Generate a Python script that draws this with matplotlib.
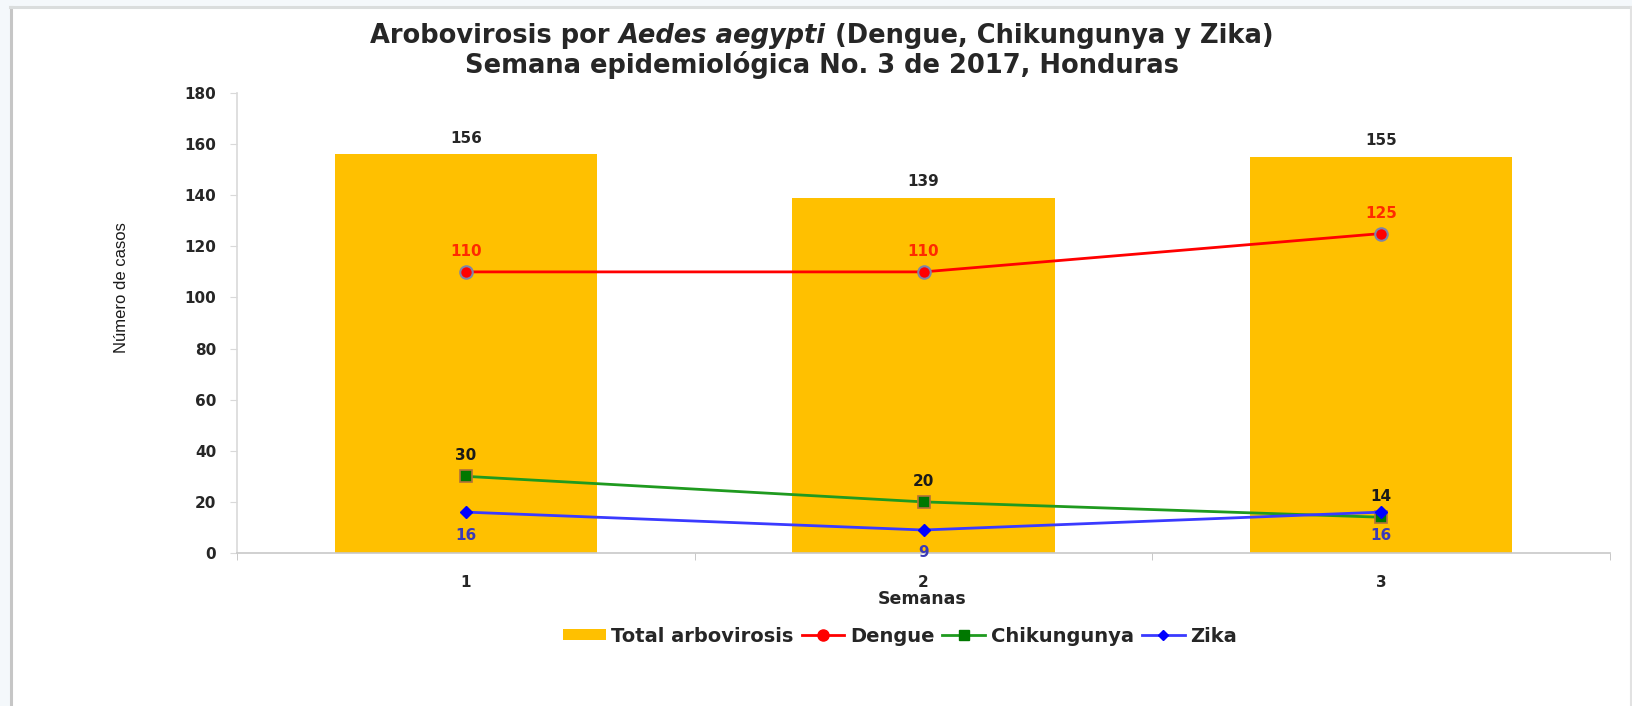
import matplotlib
matplotlib.use("Agg")
import matplotlib.pyplot as plt
from matplotlib.patches import Rectangle, Patch
from matplotlib.lines import Line2D
import numpy as np

# ---- data ----
semanas = [1, 2, 3]
semana_labels = ["1", "2", "3"]
total = [156, 139, 155]
dengue = [110, 110, 125]
chikungunya = [30, 20, 14]
zika = [16, 9, 16]

W, H = 1632, 706
fig = plt.figure(figsize=(W / 100, H / 100), dpi=100, facecolor="#f4f8fb")

# white chart panel with borders
fig.patches.append(Rectangle((10 / W, 0), (1630 - 10) / W, 1 - 7 / H,
                             transform=fig.transFigure, facecolor="white",
                             edgecolor="none", zorder=-5))
fig.lines.append(Line2D([10.5 / W, 10.5 / W], [0, 1 - 7 / H], transform=fig.transFigure,
                        color="#c6c6c6", lw=2.2, zorder=-4))
fig.lines.append(Line2D([10 / W, 1630 / W], [1 - 7 / H, 1 - 7 / H], transform=fig.transFigure,
                        color="#dadddd", lw=2.2, zorder=-4))
fig.lines.append(Line2D([1630.5 / W, 1630.5 / W], [0, 1 - 7 / H], transform=fig.transFigure,
                        color="#e2e2e2", lw=1.5, zorder=-4))

ax = fig.add_axes([237 / W, 1 - 553 / H, (1610 - 237) / W, (553 - 93) / H])
ax.set_facecolor("none")
ax.set_zorder(1)

bar_color = "#FFC000"
ax.bar(semanas, total, width=0.573, color=bar_color, zorder=1)

ax.plot(semanas, dengue, color="#ff0000", lw=2, marker="o", markersize=9,
        markerfacecolor="#ff0000", markeredgecolor="#7f84a8", markeredgewidth=1.5, zorder=3)
ax.plot(semanas, chikungunya, color="#1f9a1f", lw=2, marker="s", markersize=8.5,
        markerfacecolor="#007800", markeredgecolor="#b0703a", markeredgewidth=1.2, zorder=3)
ax.plot(semanas, zika, color="#3a3aff", lw=2, marker="D", markersize=6,
        markerfacecolor="#0000ff", markeredgecolor="#0000ff", zorder=4)

lab_font = dict(fontsize=11, fontweight="bold", family="DejaVu Sans")
for x, v in zip(semanas, total):
    ax.annotate(str(v), (x, v), xytext=(0, 11.5), textcoords="offset points",
                ha="center", va="center", color="#262626", **lab_font)
for x, v in zip(semanas, dengue):
    ax.annotate(str(v), (x, v), xytext=(0, 14.4), textcoords="offset points",
                ha="center", va="center", color="#ff2a00", **lab_font)
for x, v in zip(semanas, chikungunya):
    ax.annotate(str(v), (x, v), xytext=(0, 15), textcoords="offset points",
                ha="center", va="center", color="#1a1a1a", **lab_font)
for x, v in zip(semanas, zika):
    ax.annotate(str(v), (x, v), xytext=(0, -16.5), textcoords="offset points",
                ha="center", va="center", color="#3a3ab8", **lab_font)

ax.set_xlim(0.5, 3.5)
ax.set_ylim(0, 180)
ax.set_yticks(np.arange(0, 181, 20))
ax.set_xticks(semanas)
ax.set_xticklabels(semana_labels)
ax.set_xticks([0.5, 1.5, 2.5, 3.5], minor=True)
ax.tick_params(axis="x", which="major", length=0, pad=16, labelsize=11, labelcolor="#262626")
ax.tick_params(axis="x", which="minor", length=5, color="#bfbfbf", direction="out")
ax.tick_params(axis="y", length=5, color="#d9d9d9", pad=10, labelsize=11, labelcolor="#262626")
for lab in ax.get_xticklabels() + ax.get_yticklabels():
    lab.set_fontweight("bold")
for s in ["top", "right"]:
    ax.spines[s].set_visible(False)
ax.spines["left"].set_color("#d9d9d9")
ax.spines["bottom"].set_color("#c8c8c8")
ax.spines["left"].set_linewidth(1.2)
ax.spines["bottom"].set_linewidth(1.2)

fig.text(922 / W, 1 - 599 / H, "Semanas", ha="center", va="center",
         fontsize=12.5, fontweight="bold", color="#262626")
fig.text(122 / W, 1 - 288 / H, "Número de casos", rotation=90, ha="center", va="center",
         fontsize=12, family=["Liberation Sans", "DejaVu Sans"], color="#1a1a1a")

# title with italic segment
fig.canvas.draw()
renderer = fig.canvas.get_renderer()
tfont = dict(fontsize=18.5, fontweight="bold", color="#262626", va="center")
pieces = [("Arobovirosis por ", "normal"), ("Aedes aegypti", "italic"),
          (" (Dengue, Chikungunya y Zika)", "normal")]
cx = 822
ty1 = 1 - 36 / H
texts = [fig.text(0, ty1, s, style=st, ha="left", **tfont) for s, st in pieces]
widths = [t.get_window_extent(renderer).width for t in texts]
x0 = cx - sum(widths) / 2
for t, w in zip(texts, widths):
    t.set_x(x0 / W)
    x0 += w
fig.text(cx / W, 1 - 65 / H, "Semana epidemiológica No. 3 de 2017, Honduras",
         ha="center", **tfont)

handles = [
    Patch(facecolor=bar_color, edgecolor="none"),
    Line2D([], [], color="#ff0000", lw=2, marker="o", markersize=8,
           markerfacecolor="#ff0000", markeredgecolor="#ff0000"),
    Line2D([], [], color="#1f9a1f", lw=2, marker="s", markersize=7,
           markerfacecolor="#007800", markeredgecolor="#007800"),
    Line2D([], [], color="#3a3aff", lw=2, marker="D", markersize=5,
           markerfacecolor="#0000ff", markeredgecolor="#0000ff"),
]
labels = ["Total arbovirosis", "Dengue", "Chikungunya", "Zika"]
fig.legend(handles, labels, loc="center", bbox_to_anchor=(900 / W, 1 - 636 / H),
           ncol=4, frameon=False, handlelength=2.2, handleheight=0.55,
           columnspacing=0.4, handletextpad=0.3,
           prop=dict(size=14, weight="bold"), labelcolor="#262626")

fig.savefig("out.png", dpi=100, facecolor=fig.get_facecolor())
